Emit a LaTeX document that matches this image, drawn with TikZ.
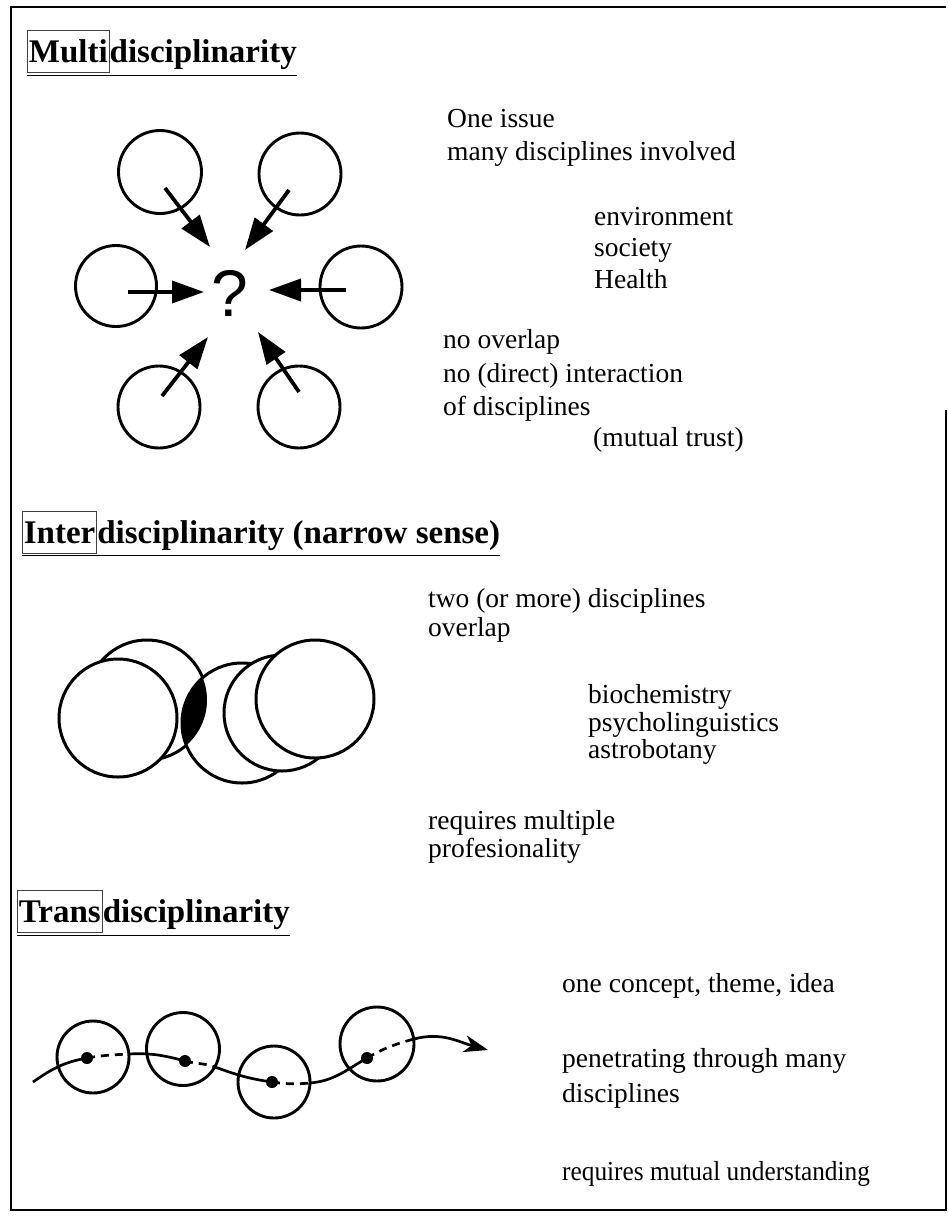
\documentclass[tikz,border=0pt]{standalone}
\usepackage{fontspec}
\usepackage{graphicx}
\setmainfont{Liberation Serif}
\newfontfamily\qfont{Liberation Sans}
\usetikzlibrary{arrows.meta}
\begin{document}
\begin{tikzpicture}[x=1bp,y=-1bp,
  body/.style={anchor=base west, inner sep=0pt, font=\fontsize{27.5bp}{33bp}\selectfont},
  headpre/.style={anchor=base west, draw=black!75, line width=0.7bp, inner xsep=1.5bp, inner ysep=0pt,
    text height=32bp, text depth=10bp, font=\fontsize{33bp}{40bp}\selectfont\bfseries},
  headrest/.style={anchor=base west, inner sep=0pt, font=\fontsize{33bp}{40bp}\selectfont\bfseries},
  uline/.style={line width=1.5bp},
  disc/.style={circle, draw, line width=2.9bp, minimum size=#1, inner sep=0pt},
  idisc/.style={circle, draw, fill=white, line width=3bp, minimum size=#1, inner sep=0pt},
  dot/.style={circle, fill, minimum size=12bp, inner sep=0pt},
  toq/.style={line width=3.8bp, -{Triangle[length=32bp,width=22bp]}},
  curve/.style={line width=2.7bp},
  dcurve/.style={line width=2.7bp, dash pattern=on 8bp off 6bp},
]
\useasboundingbox (0,0) rectangle (948,1217);
% frame
\draw[line width=2bp] (946,410) -- (946,1210) -- (11,1210) -- (11,7) -- (946,7);

% ---------- Multidisciplinarity ----------
\node[headpre] (mpre) at (27,62) {Multi};
\node[headrest] (mrest) at (mpre.base east) {disciplinarity};
\draw[uline] ([yshift=-3bp]mpre.south west) -- ([yshift=-3bp]mpre.south west -| mrest.east);

\node[disc=83bp] (c1) at (160,172) {};
\node[disc=82bp] (c2) at (300,174) {};
\node[disc=81bp] (c3) at (116,286) {};
\node[disc=82bp] (c4) at (361,287) {};
\node[disc=82bp] (c5) at (159,407) {};
\node[disc=82bp] (c6) at (299,407) {};
\node[font=\qfont\fontsize{66bp}{66bp}\selectfont, inner sep=0pt] (q) at (230,293) {?};
\coordinate (a1s) at (165,188); \coordinate (a1e) at (210,247);
\coordinate (a2s) at (289,190); \coordinate (a2e) at (245,250);
\coordinate (a3s) at (128,292); \coordinate (a3e) at (204,292);
\coordinate (a4s) at (346,290); \coordinate (a4e) at (269,290);
\coordinate (a5s) at (162,396); \coordinate (a5e) at (208,337);
\coordinate (a6s) at (299,392); \coordinate (a6e) at (258,332);
\draw[toq] (a1s) -- (a1e);
\draw[toq] (a2s) -- (a2e);
\draw[toq] (a3s) -- (a3e);
\draw[toq] (a4s) -- (a4e);
\draw[toq] (a5s) -- (a5e);
\draw[toq] (a6s) -- (a6e);

\node[body] (m1) at (447,127) {One issue};
\node[body] (m2) at (447,160) {many disciplines involved};
\node[body] (m3) at (594,225) {environment};
\node[body] (m4) at (594,256) {society};
\node[body] (m5) at (594,288) {Health};
\node[body] (m6) at (443,348) {no overlap};
\node[body] (m7) at (443,382) {no (direct) interaction};
\node[body] (m8) at (443,415) {of disciplines};
\node[body] (m9) at (593,446) {(mutual trust)};

% ---------- Interdisciplinarity ----------
\node[headpre] (ipre) at (22,543) {Inter};
\node[headrest] (irest) at (ipre.base east) {disciplinarity (narrow sense)};
\draw[uline] ([yshift=-2bp]ipre.south west) -- ([yshift=-2bp]ipre.south west -| irest.east);

\node[idisc=120bp] (i2) at (147,700) {};
\node[idisc=120bp] (i3) at (242,723) {};
\begin{scope}
  \clip (i2.center) circle[radius=60bp];
  \fill (i3.center) circle[radius=60bp];
\end{scope}
\node[idisc=118bp] (i1) at (118,718) {};
\node[idisc=116bp] (i4) at (282,713) {};
\node[idisc=118bp] (i5) at (315,699) {};

\node[body] (n1) at (428,607) {two (or more) disciplines};
\node[body] (n2) at (428,636) {overlap};
\node[body] (n3) at (588,703) {biochemistry};
\node[body] (n4) at (588,731) {psycholinguistics};
\node[body] (n5) at (588,758) {astrobotany};
\node[body] (n6) at (428,829) {requires multiple};
\node[body] (n7) at (428,857) {profesionality};

% ---------- Transdisciplinarity ----------
\node[headpre] (tpre) at (17,922) {Trans};
\node[headrest] (trest) at (tpre.base east) {disciplinarity};
\draw[uline] ([yshift=-3bp]tpre.south west) -- ([yshift=-3bp]tpre.south west -| trest.east);

\node[disc=72bp] (t1) at (93,1057) {};
\node[disc=73bp] (t2) at (183,1049) {};
\node[disc=72bp] (t3) at (274,1082) {};
\node[disc=74bp] (t4) at (377,1044) {};
\node[dot] (d1) at (87,1058) {};
\node[dot] (d2) at (185,1061) {};
\node[dot] (d3) at (272,1082) {};
\node[dot] (d4) at (367,1058) {};
\coordinate (s0) at (33,1082);
\coordinate (e1) at (129,1054);
\coordinate (e2) at (215,1067);
\coordinate (e3) at (310,1083);
\coordinate (e4) at (414,1039);
\coordinate (s5) at (488,1050);
\draw[curve] (s0) to[out=35,in=190] (d1.center);
\draw[dcurve] (d1.center) to[out=10,in=183] (e1);
\draw[curve] (e1) to[out=3,in=165] (d2.center);
\draw[dcurve] (d2.center) to[out=-15,in=160] (e2);
\draw[curve] (e2) to[out=-20,in=172] (d3.center);
\draw[dcurve] (d3.center) to[out=-8,in=185] (e3);
\draw[curve] (e3) to[out=5,in=210] (d4.center);
\draw[dcurve] (d4.center) to[out=30,in=195] (e4);
\draw[curve, -{Stealth[length=24bp,width=17bp,inset=7bp]}] (e4) to[out=15,in=165] (s5);

\node[body] (p1) at (562,992) {one concept, theme, idea};
\node[body] (p2) at (562,1067) {penetrating through many};
\node[body] (p3) at (562,1102) {disciplines};
\node[body] (p4) at (562,1180) {\scalebox{0.92}[1]{requires mutual understanding}};
\end{tikzpicture}
\end{document}
